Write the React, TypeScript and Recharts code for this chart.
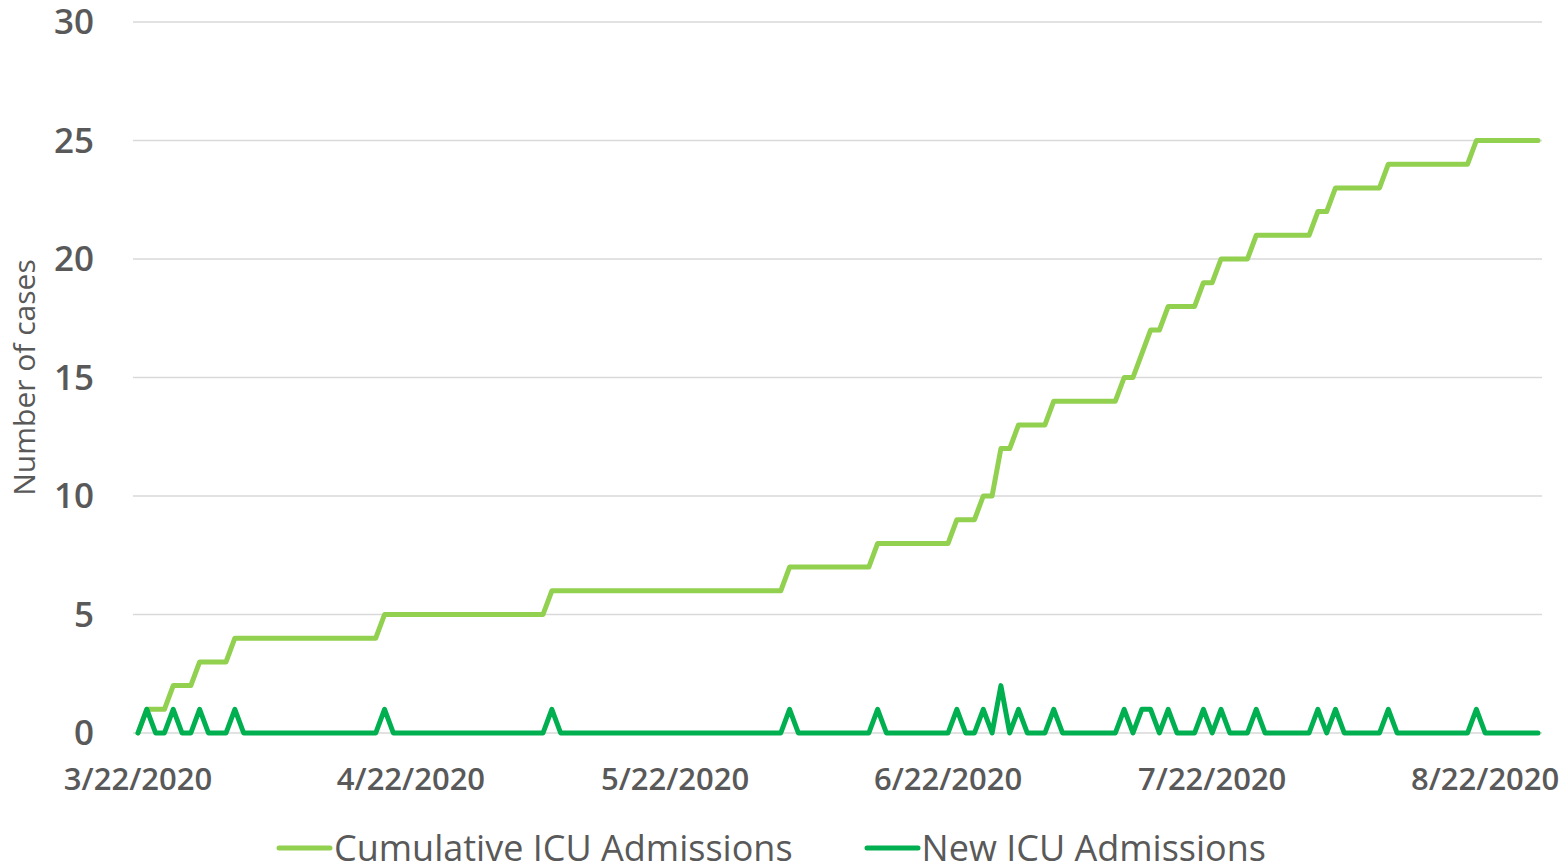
import { LineChart, Line, XAxis, YAxis, CartesianGrid, Legend } from 'recharts';

// daily new ICU admissions, starting 3/22/2020
const newAdmissions = [
    0, 1, 0, 0, 1, 0, 0, 1, 0, 0,
    0, 1, 0, 0, 0, 0, 0, 0, 0, 0,
    0, 0, 0, 0, 0, 0, 0, 0, 1, 0,
    0, 0, 0, 0, 0, 0, 0, 0, 0, 0,
    0, 0, 0, 0, 0, 0, 0, 1, 0, 0,
    0, 0, 0, 0, 0, 0, 0, 0, 0, 0,
    0, 0, 0, 0, 0, 0, 0, 0, 0, 0,
    0, 0, 0, 0, 1, 0, 0, 0, 0, 0,
    0, 0, 0, 0, 1, 0, 0, 0, 0, 0,
    0, 0, 0, 1, 0, 0, 1, 0, 2, 0,
    1, 0, 0, 0, 1, 0, 0, 0, 0, 0,
    0, 0, 1, 0, 1, 1, 0, 1, 0, 0,
    0, 1, 0, 1, 0, 0, 0, 1, 0, 0,
    0, 0, 0, 0, 1, 0, 1, 0, 0, 0,
    0, 0, 1, 0, 0, 0, 0, 0, 0, 0,
    0, 0, 1, 0, 0, 0, 0, 0, 0, 0,
];

const cumulativeAdmissions = [
    0, 1, 1, 1, 2, 2, 2, 3, 3, 3,
    3, 4, 4, 4, 4, 4, 4, 4, 4, 4,
    4, 4, 4, 4, 4, 4, 4, 4, 5, 5,
    5, 5, 5, 5, 5, 5, 5, 5, 5, 5,
    5, 5, 5, 5, 5, 5, 5, 6, 6, 6,
    6, 6, 6, 6, 6, 6, 6, 6, 6, 6,
    6, 6, 6, 6, 6, 6, 6, 6, 6, 6,
    6, 6, 6, 6, 7, 7, 7, 7, 7, 7,
    7, 7, 7, 7, 8, 8, 8, 8, 8, 8,
    8, 8, 8, 9, 9, 9, 10, 10, 12, 12,
    13, 13, 13, 13, 14, 14, 14, 14, 14, 14,
    14, 14, 15, 15, 16, 17, 17, 18, 18, 18,
    18, 19, 19, 20, 20, 20, 20, 21, 21, 21,
    21, 21, 21, 21, 22, 22, 23, 23, 23, 23,
    23, 23, 24, 24, 24, 24, 24, 24, 24, 24,
    24, 24, 25, 25, 25, 25, 25, 25, 25, 25,
];

const startDate = Date.UTC(2020, 2, 22);
const dates = newAdmissions.map((_, i) => {
    const d = new Date(startDate + i * 86400000);
    return `${d.getUTCMonth() + 1}/${d.getUTCDate()}/${d.getUTCFullYear()}`;
});

const xTicks = ['3/22/2020', '4/22/2020', '5/22/2020', '6/22/2020', '7/22/2020', '8/22/2020'];
const yTicks = [0, 5, 10, 15, 20, 25, 30];

const data = dates.map((date, i) => ({
    date,
    cumulative: cumulativeAdmissions[i],
    daily: newAdmissions[i],
}));

const FONT = "'Segoe UI', 'Open Sans', sans-serif";
const TEXT = '#595959';

const XTick = ({ x, y, payload }: any) => (
    <text x={x} y={y} dy={57} textAnchor="middle" fill={TEXT} fontSize={31} fontWeight={600} fontFamily={FONT}>
        {payload.value}
    </text>
);

const YTick = ({ x, y, payload }: any) => (
    <text x={x} y={y} dx={-39} dy={12} textAnchor="end" fill={TEXT} fontSize={35} fontWeight={600} fontFamily={FONT}>
        {payload.value}
    </text>
);

const YTitle = ({ viewBox }: any) => {
    const cx = 35;
    const cy = viewBox.y + viewBox.height / 2;
    return (
        <text x={cx} y={cy} transform={`rotate(-90 ${cx} ${cy})`} textAnchor="middle" fill={TEXT} fontSize={30} fontFamily={FONT}>
            Number of cases
        </text>
    );
};

const LegendContent = ({ payload }: any) => (
    <div style={{ display: 'flex', justifyContent: 'center', alignItems: 'center', height: 38, gap: 71, fontFamily: FONT }}>
        {(payload || []).map((item: any) => (
            <div key={item.value} style={{ display: 'flex', alignItems: 'center' }}>
                <svg width={57} height={8}>
                    <line x1={3} y1={4} x2={54} y2={4} stroke={item.color} strokeWidth={5} strokeLinecap="round" />
                </svg>
                <span style={{ fontSize: 36, lineHeight: '38px', color: TEXT, marginLeft: 1 }}>{item.value}</span>
            </div>
        ))}
    </div>
);

export default function App() {
    return (
        <div style={{ position: 'absolute', left: 0, top: 0, background: '#fff' }}>
            <LineChart width={1562} height={867} data={data} margin={{ top: 22, right: 20, left: 0, bottom: 0 }}>
                <CartesianGrid vertical={false} stroke="#d9d9d9" strokeWidth={1.5} />
                <XAxis
                    dataKey="date"
                    ticks={xTicks}
                    interval={0}
                    tick={<XTick />}
                    axisLine={false}
                    tickLine={false}
                    tickSize={0}
                    tickMargin={0}
                    height={96}
                    padding={{ left: 5, right: 4 }}
                />
                <YAxis
                    domain={[0, 30]}
                    ticks={yTicks}
                    tick={<YTick />}
                    axisLine={false}
                    tickLine={false}
                    tickSize={0}
                    tickMargin={0}
                    width={133}
                    label={<YTitle />}
                />
                <Legend verticalAlign="bottom" content={<LegendContent />} />
                <Line
                    type="linear"
                    dataKey="cumulative"
                    name="Cumulative ICU Admissions"
                    stroke="#92d050"
                    strokeWidth={5}
                    strokeLinejoin="round"
                    strokeLinecap="round"
                    dot={false}
                    isAnimationActive={false}
                />
                <Line
                    type="linear"
                    dataKey="daily"
                    name="New ICU Admissions"
                    stroke="#00b050"
                    strokeWidth={5}
                    strokeLinejoin="round"
                    strokeLinecap="round"
                    dot={false}
                    isAnimationActive={false}
                />
            </LineChart>
        </div>
    );
}
